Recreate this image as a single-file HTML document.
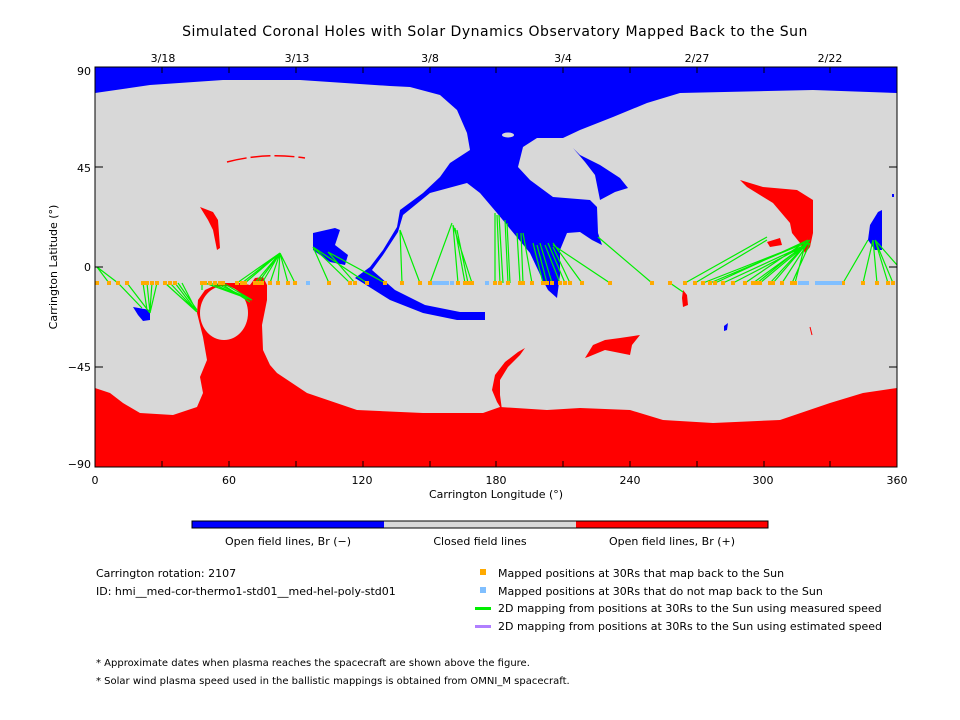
<!DOCTYPE html>
<html><head><meta charset="utf-8"><style>
body{margin:0;background:#fff}
svg{display:block}
text{font-family:"DejaVu Sans","Liberation Sans",sans-serif;font-size:11px;fill:#000}
</style></head><body>
<svg width="960" height="720" viewBox="0 0 960 720" xmlns="http://www.w3.org/2000/svg">
<rect width="960" height="720" fill="#fff"/>
<text x="495" y="36" text-anchor="middle" style="font-size:14px;letter-spacing:0.5px">Simulated Coronal Holes with Solar Dynamics Observatory Mapped Back to the Sun</text>
<defs><clipPath id="c"><rect x="95" y="67" width="802" height="400"/></clipPath></defs>
<g clip-path="url(#c)">
<rect x="95" y="67" width="802" height="400" fill="#d8d8d8"/>
<!-- blue main -->
<polygon fill="#0000ff" points="95,67 897,67 897,93 813,90 680,93 647,103 613,117 580,130 563,138 537,138 523,147 518,167 530,180 553,197 590,200 597,207 598,233 602,245 592,240 580,232 567,233 560,250 560,275 557,298 548,290 540,275 530,260 510,245 495,235 485,312 485,320 457,320 423,313 390,300 363,283 355,278 370,267 383,250 397,227 400,210 423,193 440,177 450,163 470,150 467,133 457,110 440,95 410,87 390,86 300,80 223,80 150,85 95,93"/>
<polygon fill="#d8d8d8" points="403,215 430,193 467,183 480,193 497,213 530,253 545,285 553,312 485,312 460,312 425,305 395,290 372,270 383,255 398,232"/>
<polygon fill="#0000ff" points="573,148 580,155 600,165 620,178 628,188 615,192 600,200 598,190 595,175 585,162"/>
<ellipse cx="508" cy="135" rx="6" ry="2.5" fill="#d8d8d8"/>
<polygon fill="#0000ff" points="868,240 870,225 878,212 882,210 882,250 875,250"/>
<rect x="892" y="194" width="2" height="3" fill="#0000ff"/>
<polygon fill="#0000ff" points="133,307 150,310 150,320 143,321 138,315"/>
<polygon fill="#0000ff" points="313,233 335,228 340,230 335,245 348,255 345,265 330,262 313,250"/>
<polygon fill="#0000ff" points="724,326 728,323 727,330 724,331"/>
<!-- red bottom -->
<polygon fill="#ff0000" points="95,388 110,393 123,403 140,413 173,415 197,407 203,393 200,377 207,360 203,337 197,313 198,300 205,290 220,283 240,283 250,285 255,278 263,277 267,285 267,300 262,325 263,350 270,365 277,373 307,393 357,410 423,413 483,413 500,407 547,410 580,408 630,410 663,420 713,423 780,420 830,403 863,393 897,388 897,467 95,467"/>
<ellipse cx="224" cy="313" rx="24" ry="27" fill="#d8d8d8"/>
<polygon fill="#ff0000" points="525,348 518,352 505,362 495,375 492,390 497,402 502,410 500,395 500,380 508,367 520,355"/>
<polygon fill="#ff0000" points="200,207 213,212 218,220 220,248 217,250 213,230 208,220"/>
<path d="M227,162 Q265,152 305,158" stroke="#ff0000" stroke-width="1.5" fill="none" stroke-dasharray="20,4"/>
<polygon fill="#ff0000" points="740,180 763,187 797,190 813,200 813,233 810,247 805,253 800,243 792,233 790,223 773,203 747,187"/>
<polygon fill="#ff0000" points="767,242 780,238 782,245 770,247"/>
<polygon fill="#ff0000" points="683,290 687,295 688,305 683,307 682,298"/>
<polygon fill="#ff0000" points="593,345 605,340 620,338 640,335 632,345 630,355 620,353 605,350 588,357 585,358"/>
<path d="M810,327 L812,335" stroke="#ff0000" stroke-width="1"/>
<!-- green mapping lines -->
<g stroke="#00ee00" stroke-width="1.2" fill="none">
<path d="M109,283L97,267M118,283L97,267M118,283L142,308M127,283L150,313M143,283L147,310M147,283L150,313M152,283L150,310M157,283L150,313M165,283L197,312M170,283L197,312M175,283L197,312M178,283L197,310M182,283L197,312M202,283L202,290M205,283L252,300M210,283L252,300M215,283L252,300M220,283L250,302M223,283L252,300M237,283L280,253M242,283L280,253M245,283L280,253M255,283L280,253M258,283L280,253M262,283L280,253M270,283L280,253M278,283L280,253M288,283L280,253M295,283L280,253M329,283L313,247M350,283L313,247M355,283L328,252M367,283L313,247M385,283L328,252M402,283L400,230M420,283L400,230M430,283L452,223M458,283L453,225M465,283L455,228M468,283L457,230M472,283L453,225M495,283L495,213M500,283L497,215M503,283L499,215M508,283L505,220M510,283L507,223M520,283L517,233M523,283L521,233M532,283L523,233M543,283L533,243M547,283L537,245M552,283L540,243M560,283L545,245M565,283L548,243M570,283L553,247M582,283L553,243M610,283L553,245M652,283L598,237M670,283L683,292M685,283L767,237M695,283L767,240M703,283L805,243M710,283L805,243M715,283L808,240M723,283L805,245M733,283L810,243M745,283L808,240M753,283L805,245M757,283L810,240M760,283L808,243M770,283L805,245M773,283L810,240M782,283L808,243M792,283L810,243M795,283L805,245M843,283L868,240M863,283L873,240M877,283L873,240M888,283L875,240M893,283L875,240M897,265L875,240"/>
</g>
<!-- markers -->
<g fill="#ffaa00">
<rect x="95" y="281" width="4" height="4"/><rect x="107" y="281" width="4" height="4"/><rect x="116" y="281" width="4" height="4"/><rect x="125" y="281" width="4" height="4"/><rect x="141" y="281" width="4" height="4"/><rect x="145" y="281" width="4" height="4"/><rect x="150" y="281" width="4" height="4"/><rect x="155" y="281" width="4" height="4"/><rect x="163" y="281" width="4" height="4"/><rect x="168" y="281" width="4" height="4"/><rect x="173" y="281" width="4" height="4"/><rect x="200" y="281" width="4" height="4"/><rect x="203" y="281" width="4" height="4"/><rect x="208" y="281" width="4" height="4"/><rect x="213" y="281" width="4" height="4"/><rect x="218" y="281" width="4" height="4"/><rect x="221" y="281" width="4" height="4"/><rect x="235" y="281" width="4" height="4"/><rect x="240" y="281" width="4" height="4"/><rect x="243" y="281" width="4" height="4"/><rect x="253" y="281" width="4" height="4"/><rect x="256" y="281" width="4" height="4"/><rect x="260" y="281" width="4" height="4"/><rect x="268" y="281" width="4" height="4"/><rect x="276" y="281" width="4" height="4"/><rect x="286" y="281" width="4" height="4"/><rect x="293" y="281" width="4" height="4"/><rect x="327" y="281" width="4" height="4"/><rect x="348" y="281" width="4" height="4"/><rect x="353" y="281" width="4" height="4"/><rect x="365" y="281" width="4" height="4"/><rect x="383" y="281" width="4" height="4"/><rect x="400" y="281" width="4" height="4"/><rect x="418" y="281" width="4" height="4"/><rect x="428" y="281" width="4" height="4"/><rect x="456" y="281" width="4" height="4"/><rect x="463" y="281" width="4" height="4"/><rect x="466" y="281" width="4" height="4"/><rect x="470" y="281" width="4" height="4"/><rect x="493" y="281" width="4" height="4"/><rect x="498" y="281" width="4" height="4"/><rect x="506" y="281" width="4" height="4"/><rect x="518" y="281" width="4" height="4"/><rect x="521" y="281" width="4" height="4"/><rect x="530" y="281" width="4" height="4"/><rect x="541" y="281" width="4" height="4"/><rect x="545" y="281" width="4" height="4"/><rect x="550" y="281" width="4" height="4"/><rect x="558" y="281" width="4" height="4"/><rect x="563" y="281" width="4" height="4"/><rect x="568" y="281" width="4" height="4"/><rect x="580" y="281" width="4" height="4"/><rect x="608" y="281" width="4" height="4"/><rect x="650" y="281" width="4" height="4"/><rect x="668" y="281" width="4" height="4"/><rect x="683" y="281" width="4" height="4"/><rect x="693" y="281" width="4" height="4"/><rect x="701" y="281" width="4" height="4"/><rect x="708" y="281" width="4" height="4"/><rect x="713" y="281" width="4" height="4"/><rect x="721" y="281" width="4" height="4"/><rect x="731" y="281" width="4" height="4"/><rect x="743" y="281" width="4" height="4"/><rect x="751" y="281" width="4" height="4"/><rect x="755" y="281" width="4" height="4"/><rect x="758" y="281" width="4" height="4"/><rect x="768" y="281" width="4" height="4"/><rect x="771" y="281" width="4" height="4"/><rect x="780" y="281" width="4" height="4"/><rect x="790" y="281" width="4" height="4"/><rect x="793" y="281" width="4" height="4"/><rect x="841" y="281" width="4" height="4"/><rect x="861" y="281" width="4" height="4"/><rect x="875" y="281" width="4" height="4"/><rect x="886" y="281" width="4" height="4"/><rect x="891" y="281" width="4" height="4"/>
</g>
<g fill="#80bfff">
<rect x="306" y="281" width="4" height="4"/><rect x="432" y="281" width="17" height="4"/><rect x="450" y="281" width="4" height="4"/><rect x="485" y="281" width="4" height="4"/><rect x="798" y="281" width="11" height="4"/><rect x="815" y="281" width="27" height="4"/>
</g>
</g>
<!-- axes -->
<rect x="95" y="67" width="802" height="400" fill="none" stroke="#000" stroke-width="1"/>
<g stroke="#000" stroke-width="1">
<path d="M162,67v6M229,67v6M296,67v6M363,67v6M430,67v6M496,67v6M563,67v6M630,67v6M697,67v6M764,67v6M830,67v6"/>
<path d="M162,467v-6M229,467v-6M296,467v-6M363,467v-6M430,467v-6M496,467v-6M563,467v-6M630,467v-6M697,467v-6M764,467v-6M830,467v-6"/>
<path d="M95,167h8M95,267h8M95,367h8M897,167h-8M897,267h-8M897,367h-8"/>
</g>
<g text-anchor="middle">
<text x="163" y="62">3/18</text><text x="297" y="62">3/13</text><text x="430" y="62">3/8</text><text x="563" y="62">3/4</text><text x="697" y="62">2/27</text><text x="830" y="62">2/22</text>
<text x="95" y="484">0</text><text x="229" y="484">60</text><text x="362" y="484">120</text><text x="496" y="484">180</text><text x="630" y="484">240</text><text x="763" y="484">300</text><text x="897" y="484">360</text>
<text x="496" y="498">Carrington Longitude (°)</text>
</g>
<g text-anchor="end">
<text x="91" y="75">90</text><text x="91" y="172">45</text><text x="91" y="271">0</text><text x="91" y="371">−45</text><text x="91" y="468">−90</text>
</g>
<text transform="translate(57,267) rotate(-90)" text-anchor="middle">Carrington Latitude (°)</text>
<!-- colorbar -->
<rect x="192" y="521" width="192" height="7" fill="#0000ff"/>
<rect x="384" y="521" width="192" height="7" fill="#d8d8d8"/>
<rect x="576" y="521" width="192" height="7" fill="#ff0000"/>
<rect x="192" y="521" width="576" height="7" fill="none" stroke="#000"/>
<g text-anchor="middle">
<text x="288" y="545">Open field lines, Br (−)</text>
<text x="480" y="545">Closed field lines</text>
<text x="672" y="545">Open field lines, Br (+)</text>
</g>
<text x="96" y="577">Carrington rotation: 2107</text>
<text x="96" y="595">ID: hmi__med-cor-thermo1-std01__med-hel-poly-std01</text>
<rect x="480" y="569" width="6" height="6" fill="#ffaa00"/>
<rect x="480" y="587" width="6" height="6" fill="#80bfff"/>
<rect x="475" y="607" width="16" height="3" fill="#00ee00"/>
<rect x="475" y="625" width="16" height="3" fill="#b07fff"/>
<text x="498" y="577">Mapped positions at 30Rs that map back to the Sun</text>
<text x="498" y="595">Mapped positions at 30Rs that do not map back to the Sun</text>
<text x="498" y="612">2D mapping from positions at 30Rs to the Sun using measured speed</text>
<text x="498" y="630">2D mapping from positions at 30Rs to the Sun using estimated speed</text>
<text x="96" y="666" style="font-size:10px">* Approximate dates when plasma reaches the spacecraft are shown above the figure.</text>
<text x="96" y="684" style="font-size:10px">* Solar wind plasma speed used in the ballistic mappings is obtained from OMNI_M spacecraft.</text>
</svg>
</body></html>
